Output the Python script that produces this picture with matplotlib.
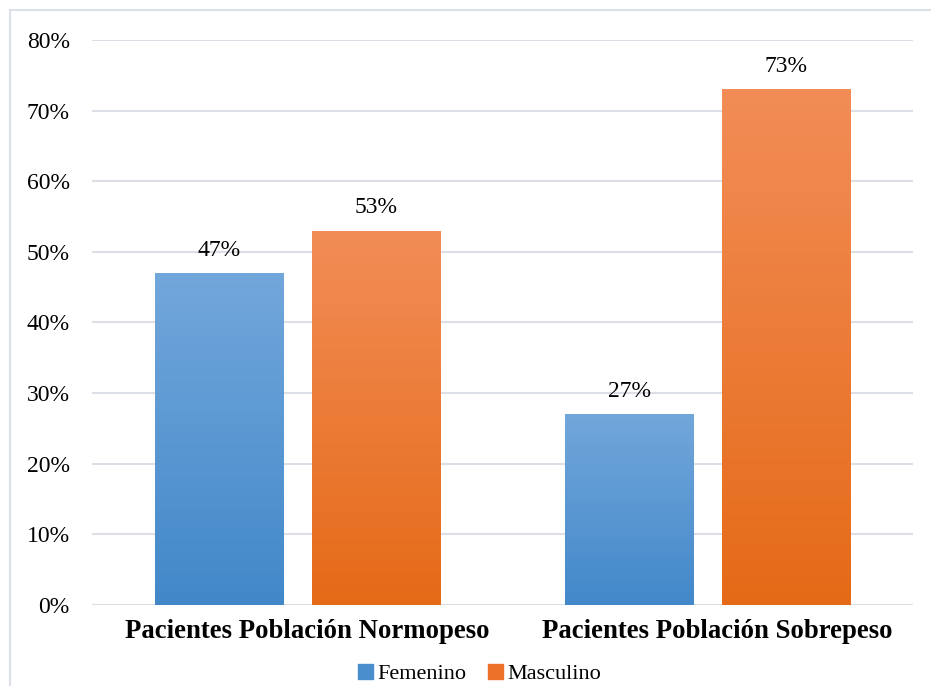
import numpy as np
import matplotlib
matplotlib.use("Agg")
import matplotlib.pyplot as plt
from matplotlib.patches import Rectangle
from matplotlib.colors import LinearSegmentedColormap
from matplotlib.ticker import PercentFormatter

categories = ["Pacientes Población Normopeso", "Pacientes Población Sobrepeso"]
series_names = ["Femenino", "Masculino"]
femenino = [0.47, 0.27]
masculino = [0.53, 0.73]
yticks = [0, 0.1, 0.2, 0.3, 0.4, 0.5, 0.6, 0.7, 0.8]

plt.rcParams['font.family'] = ['Liberation Serif', 'DejaVu Serif']

fig = plt.figure(figsize=(9.31, 6.86), dpi=100)
ax = fig.add_axes([0.0988, 0.1181, 0.8819, 0.8236])

# figure border (top & left visible)
fig.patches.append(Rectangle((10/931, -0.5), 2, (686-10)/686 + 0.5,
                             transform=fig.transFigure, fill=False,
                             edgecolor='#DADFE8', linewidth=1.5))

x = np.arange(len(categories))
w = 0.312
off = 0.191
colors_top = ['#72A7DB', '#F28D57']
colors_bot = ['#4288C9', '#E56A17']
solid = ['#5B9BD5', '#ED7D31']

ax.set_xlim(-0.5, 1.5)
ax.set_ylim(0, 0.8)

for i, (vals, name) in enumerate([(femenino, series_names[0]), (masculino, series_names[1])]):
    pos = x + (-off if i == 0 else off)
    bars = ax.bar(pos, vals, w, color=solid[i], label=name, zorder=2)
    cmap = LinearSegmentedColormap.from_list('g%d' % i, [colors_bot[i], colors_top[i]])
    grad = np.linspace(0, 1, 256).reshape(-1, 1)
    for b, v in zip(bars, vals):
        bx = b.get_x()
        im = ax.imshow(grad, cmap=cmap, origin='lower', aspect='auto',
                       extent=[bx, bx + w, 0, v], zorder=3)
        im.set_clip_path(b)
        ax.annotate(f"{v*100:.0f}%", (bx + w/2, v), xytext=(0, 9),
                    textcoords='offset points', ha='center', va='bottom',
                    fontsize=17, color='#000000')

ax.set_xlim(-0.5, 1.5)
ax.set_ylim(0, 0.8)
ax.set_yticks(yticks)
ax.yaxis.set_major_formatter(PercentFormatter(1.0, decimals=0))
ax.set_xticks(x)
ax.set_xticklabels([])
for xi, cat in zip(x, categories):
    ax.annotate(cat, (xi, 0), xycoords=('data', 'axes fraction'),
                xytext=(7, -10), textcoords='offset points',
                ha='center', va='top', fontsize=19.3, fontweight='bold')
ax.tick_params(axis='y', labelsize=17, length=0, pad=16)
ax.tick_params(axis='x', length=0)
ax.grid(axis='y', color='#DCE0E6', linewidth=1.5, zorder=0)
ax.set_axisbelow(True)
for s in ax.spines.values():
    s.set_visible(False)

leg = fig.legend(loc='center', bbox_to_anchor=(0.515, 0.017), ncol=2, frameon=False,
                 fontsize=16, handlelength=0.65, handleheight=0.65, handletextpad=0.2,
                 columnspacing=1.0)
for h, c in zip(leg.legend_handles, ['#4A8ECE', '#EA7126']):
    h.set_color(c)

fig.savefig('out.png', dpi=100)
